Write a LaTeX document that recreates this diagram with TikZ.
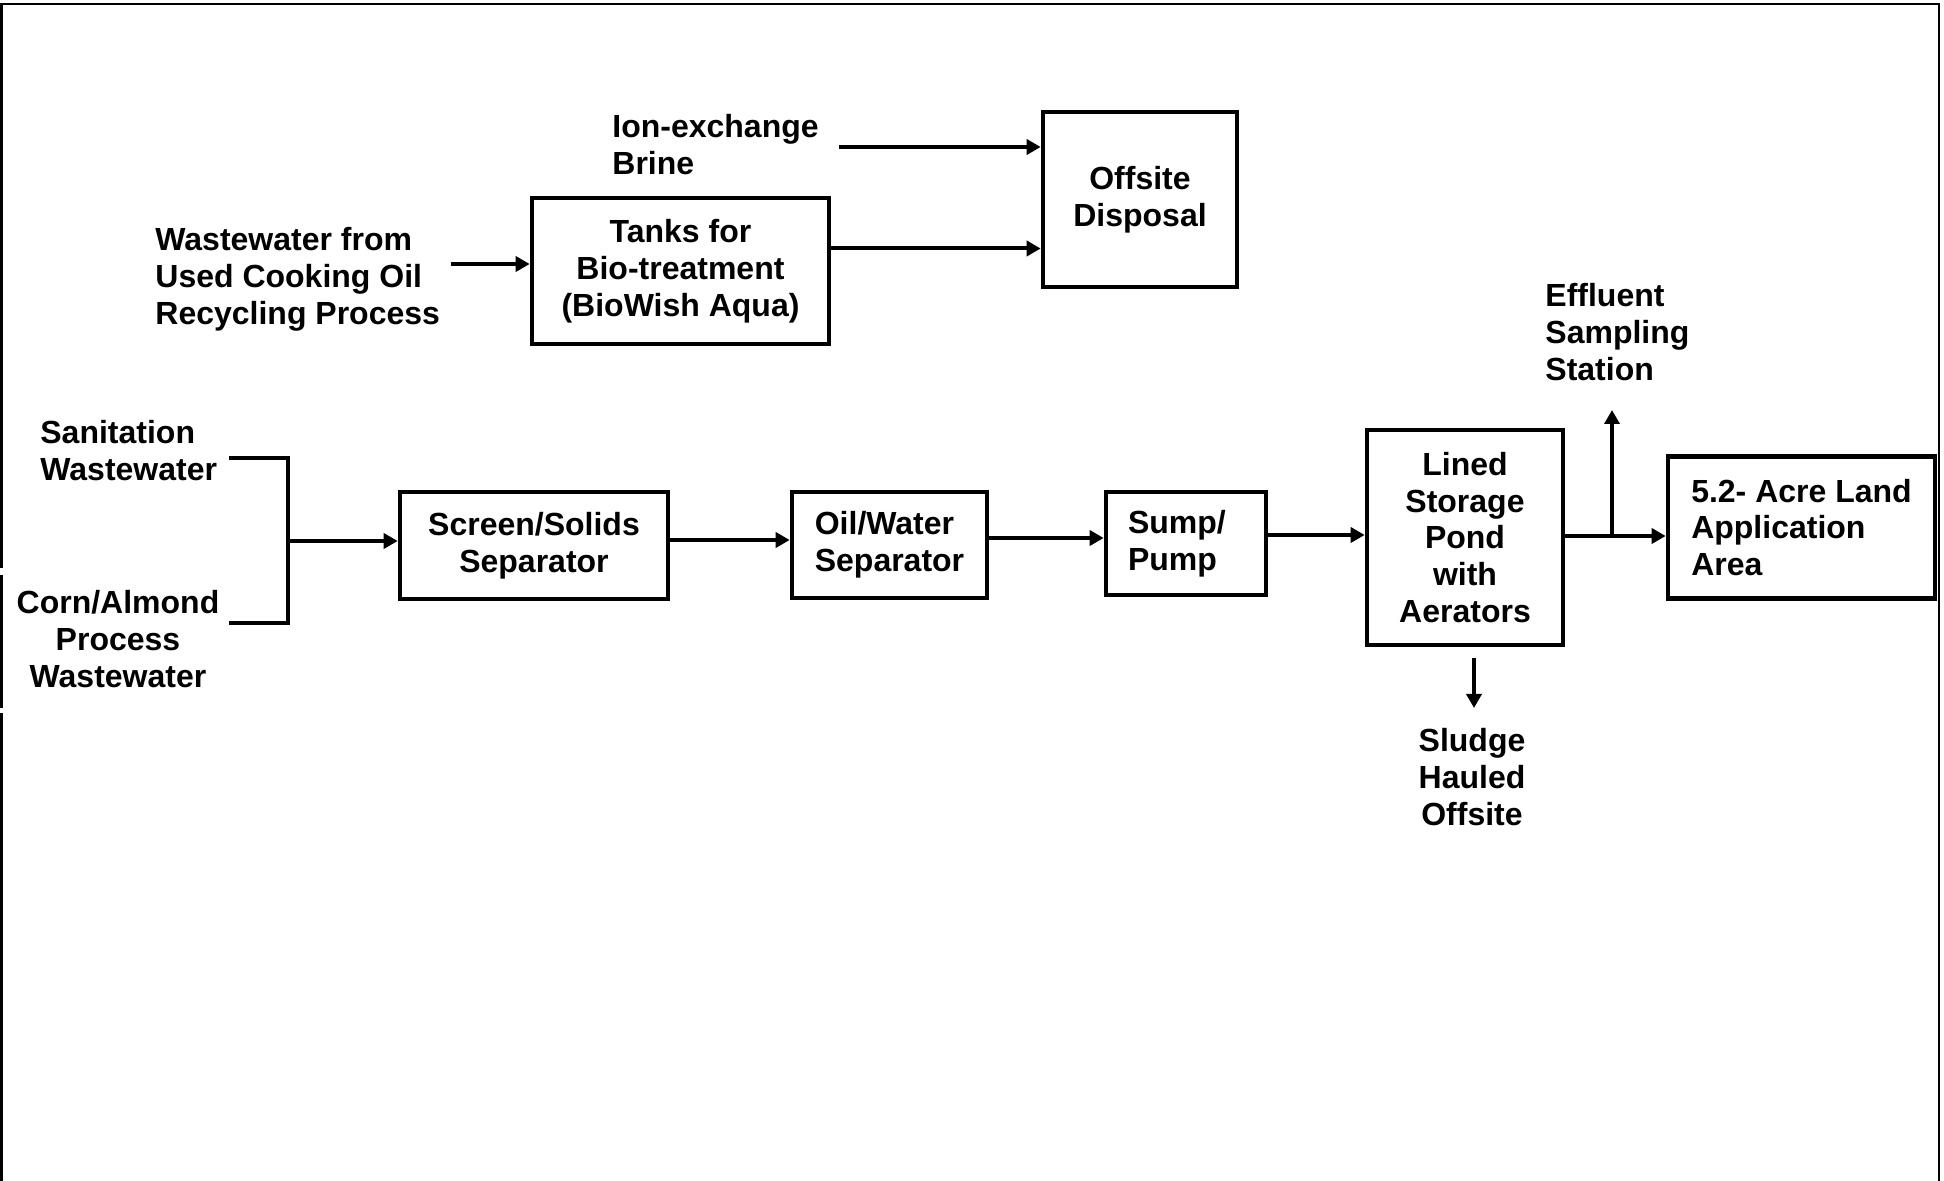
\documentclass[tikz,border=0pt]{standalone}
\usepackage{fontspec}
\setmainfont{Liberation Sans}
\usetikzlibrary{arrows.meta}

\begin{document}
\begin{tikzpicture}
		[x=0.5pt, y=-0.5pt,
		block/.style={draw, line width=2.3pt, inner sep=0pt, align=center, font=\bfseries\fontsize{16}{18.4}\selectfont},
		note/.style={inner sep=0pt, align=left, font=\bfseries\fontsize{16}{18.4}\selectfont},
		pipe/.style={line width=2pt},
		flow/.style={pipe, -{Triangle[length=7pt, width=7.5pt]}}]
		\useasboundingbox (0,0) rectangle (1944,1181);
		\draw[line width=1.3pt] (1.5,1181) -- (1.5,713) (1.5,708) -- (1.5,575) (1.5,568) -- (1.5,4) -- (1939,4) -- (1939,1181);

		% boxes
		\node[block, minimum width=97pt, minimum height=87.5pt] (offsite) at (1140,199.5) {Offsite\\Disposal};
		\node[block, minimum width=148.5pt, minimum height=73pt] (tanks) at (680.5,271) {Tanks for\\Bio-treatment\\(BioWish Aqua)};
		\node[block, minimum width=134pt, minimum height=53.5pt] (screen) at (534,545.5) {Screen/Solids\\Separator};
		\node[block, minimum width=97.5pt, minimum height=53pt, align=left] (oilwater) at (889.5,545) {Oil/Water\\Separator};
		\node[block, minimum width=80pt, minimum height=51.5pt, text width=58pt, align=left] (sump) at (1186,543.5) {Sump/\\Pump};
		\node[block, minimum width=98pt, minimum height=107.5pt] (pond) at (1465,537.5) {Lined\\Storage\\Pond\\with\\Aerators};
		\node[block, minimum width=133.5pt, minimum height=71pt, align=left] (land) at (1801.5,527.5) {5.2- Acre Land\\Application\\Area};

		% sources and sinks
		\node[note, anchor=north west] (brine) at (612,114) {Ion-exchange\\Brine};
		\node[note, anchor=north west] (cooking) at (155,227) {Wastewater from\\Used Cooking Oil\\Recycling Process};
		\node[note, anchor=north west] (sanitation) at (40,420) {Sanitation\\Wastewater};
		\node[note, anchor=north, align=center] (corn) at (118,590) {Corn/Almond\\Process\\Wastewater};
		\node[note, anchor=north west] (effluent) at (1545,283) {Effluent\\Sampling\\Station};
		\node[note, anchor=north, align=center] (sludge) at (1472,728) {Sludge\\Hauled\\Offsite};

		\coordinate (brinein) at (839,147);
		\coordinate (cookingin) at (451,264);
		\coordinate (sanend) at (229,458);
		\coordinate (cornend) at (229,623);
		\coordinate (merge) at (288,541);
		\coordinate (tap) at (1612,536);
		\coordinate (sample) at (1612,410);
		\coordinate (sludgetop) at (1474,658);
		\coordinate (sludgeend) at (1474,708);

		\draw[flow] (brinein) -- (brinein -| offsite.west);
		\draw[flow] ([yshift=11.25pt]tanks.east) coordinate (t1) -- (t1 -| offsite.west);
		\draw[flow] (cookingin) -- (cookingin -| tanks.west);
		\draw[pipe] (sanend) -- (sanend -| merge) -- (cornend -| merge) -- (cornend);
		\draw[flow] (merge) -- (merge -| screen.west);
		\draw[flow] ([yshift=2.75pt]screen.east) coordinate (s1) -- (s1 -| oilwater.west);
		\draw[flow] ([yshift=3.5pt]oilwater.east) coordinate (s2) -- (s2 -| sump.west);
		\draw[flow] ([yshift=4.25pt]sump.east) coordinate (s3) -- (s3 -| pond.west);
		\draw[flow] (tap -| pond.east) -- (tap -| land.west);
		\draw[flow] (tap) -- (sample);
		\draw[flow] (sludgetop) -- (sludgeend);
\end{tikzpicture}
\end{document}
